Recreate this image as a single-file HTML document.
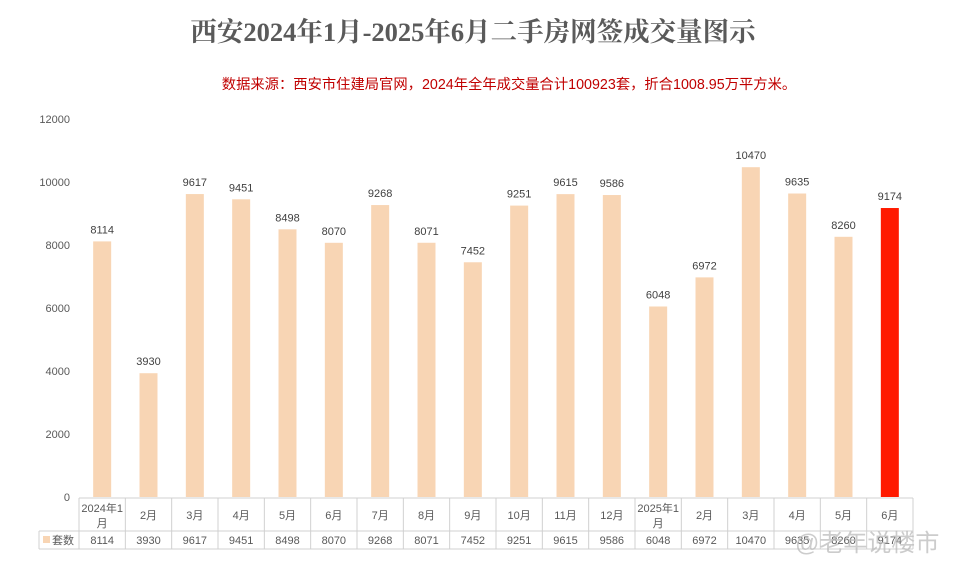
<!DOCTYPE html>
<html><head><meta charset="utf-8"><style>
body{margin:0;background:#fff;width:956px;height:568px;overflow:hidden;font-family:"Liberation Sans","Noto Sans CJK SC",sans-serif}
</style></head><body>
<svg id="c" width="956" height="568" xmlns="http://www.w3.org/2000/svg">
<text x="473" y="41" text-anchor="middle" font-size="26.5" font-weight="bold" fill="#5a5a5a" font-family="'Liberation Serif','Noto Serif CJK SC',serif">西安2024年1月-2025年6月二手房网签成交量图示</text>
<text x="509" y="89" text-anchor="middle" font-size="14.3" fill="#c00000" font-family="'Liberation Sans','Noto Sans CJK SC',sans-serif">数据来源：西安市住建局官网，2024年全年成交量合计100923套，折合1008.95万平方米。</text>
</svg>
<script>
const categories=["2024年1|月","2月","3月","4月","5月","6月","7月","8月","9月","10月","11月","12月","2025年1|月","2月","3月","4月","5月","6月"];
const values=[8114,3930,9617,9451,8498,8070,9268,8071,7452,9251,9615,9586,6048,6972,10470,9635,8260,9174];
const yTicks=[0,2000,4000,6000,8000,10000,12000];
const NS="http://www.w3.org/2000/svg",svg=document.getElementById('c');
const L=79,R=913,Y0=497,Y1=119,yMax=12000;
const cw=(R-L)/categories.length;
const y=v=>Y0-(v/yMax)*(Y0-Y1);
const xc=i=>L+cw*(i+0.5);
function mk(t,a,txt){const e=document.createElementNS(NS,t);for(const k in a)e.setAttribute(k,a[k]);if(txt!==undefined)e.textContent=txt;svg.appendChild(e);return e;}
yTicks.forEach(v=>{
const t=mk('text',{x:70,y:y(v)+4,'text-anchor':'end','font-size':11,fill:'#595959'},v);


});
values.forEach((v,i)=>{
const last=i===values.length-1;
const b=mk('rect',{x:xc(i)-9,y:y(v),width:18,height:Y0-y(v),fill:last?'#ff1a00':'#f8d5b4'});


const l=mk('text',{x:xc(i),y:y(v)-8,'text-anchor':'middle','font-size':11,fill:'#404040'},v);


});
const g='#d0d0d0',T1=498,T2=531,T3=549;
[[L,T1,R,T1],[39,T2,R,T2],[39,T3,R,T3],[39,T2,39,T3]].forEach(p=>{mk('line',{x1:p[0],y1:p[1],x2:p[2],y2:p[3],stroke:g});});
for(let i=0;i<=categories.length;i++){mk('line',{x1:L+cw*i,y1:T1,x2:L+cw*i,y2:T3,stroke:g});}
categories.forEach((c,i)=>{
const parts=c.split('|');
if(parts.length>1){
const a=mk('text',{x:xc(i),y:512,'text-anchor':'middle','font-size':11,fill:'#595959'},parts[0]);

const b=mk('text',{x:xc(i),y:527,'text-anchor':'middle','font-size':11,fill:'#595959'},parts[1]);

}else{
const a=mk('text',{x:xc(i),y:519,'text-anchor':'middle','font-size':11,fill:'#595959'},parts[0]);

}
const v=mk('text',{x:xc(i),y:544,'text-anchor':'middle','font-size':11,fill:'#595959'},values[i]);

});
const sw=mk('rect',{x:43,y:536,width:7,height:7,fill:'#f8d5b4'});

const lt=mk('text',{x:52,y:544,'font-size':11,fill:'#595959'},'套数');

const wm=mk('text',{x:795,y:551,'font-size':24,fill:'#bbbbbb','fill-opacity':0.75},'@老年说楼市');

</script>
</body></html>
